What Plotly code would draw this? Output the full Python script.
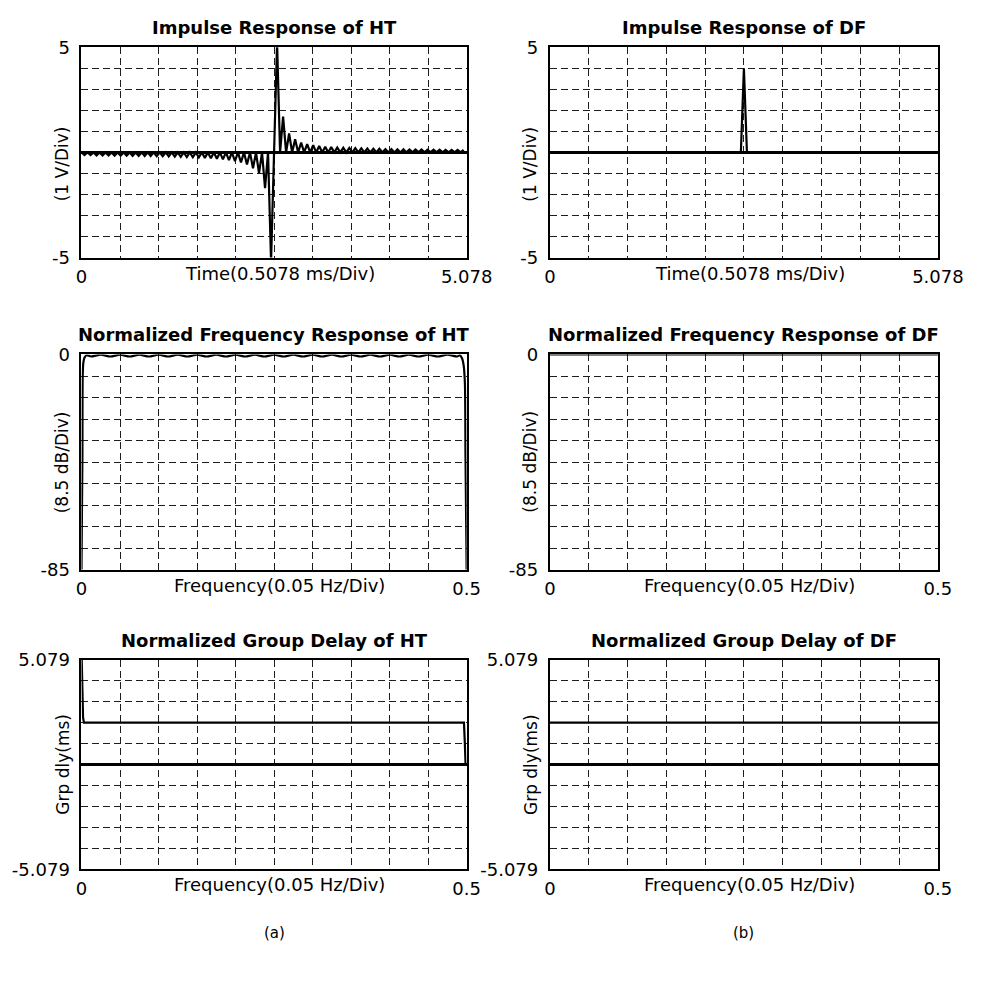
import numpy as np
import plotly.graph_objects as go

# ------------------------------------------------------------------ data
TIME_SPAN_MS = 5.078          # full time axis (10 divisions of 0.5078 ms)
N_SAMPLES = 128

# Impulse response of the Hilbert transformer (V), one value per sample
ht_impulse_v = [
    0, -0.13, 0, -0.13, 0, -0.14, 0, -0.14, 0, -0.14, 0, -0.15, 0, -0.15, 0, -0.15,
    0, -0.16, 0, -0.16, 0, -0.17, 0, -0.17, 0, -0.18, 0, -0.18, 0, -0.19, 0, -0.20,
    0, -0.21, 0, -0.22, 0, -0.23, 0, -0.24, 0, -0.26, 0, -0.28, 0, -0.30, 0, -0.33,
    0, -0.37, 0, -0.42, 0, -0.48, 0, -0.58, 0, -0.75, 0, -1.00, 0, -1.70, 0, -5.20,
    0, 5.20, 0, 1.70, 0, 0.90, 0, 0.62, 0, 0.47, 0, 0.39, 0, 0.34, 0, 0.30,
    0, 0.27, 0, 0.25, 0, 0.23, 0, 0.22, 0, 0.21, 0, 0.20, 0, 0.19, 0, 0.18,
    0, 0.17, 0, 0.17, 0, 0.16, 0, 0.16, 0, 0.15, 0, 0.15, 0, 0.14, 0, 0.14,
    0, 0.14, 0, 0.13, 0, 0.13, 0, 0.13, 0, 0.12, 0, 0.12, 0, 0.12, 0, 0.12,
]
# Impulse response of the delay filter (V): a single pulse
df_impulse_v = [0.0] * 64 + [4.0] + [0.0] * 63

# Normalized frequency response (dB)
ht_mag_freq = [0.0, 0.0012, 0.0016, 0.0025, 0.004, 0.0065,
               0.0125, 0.025, 0.0375, 0.05, 0.0625, 0.075, 0.0875, 0.1, 0.1125, 0.125,
               0.1375, 0.15, 0.1625, 0.175, 0.1875, 0.2, 0.2125, 0.225, 0.2375, 0.25,
               0.2625, 0.275, 0.2875, 0.3, 0.3125, 0.325, 0.3375, 0.35, 0.3625, 0.375,
               0.3875, 0.4, 0.4125, 0.425, 0.4375, 0.45, 0.4625, 0.475, 0.4875,
               0.491, 0.494, 0.4962, 0.4978, 0.4985, 0.5]
ht_mag_db = [-85.0, -40.0, -8.0, -3.0, -1.2, -0.3,
             -0.8, -0.1, -0.8, -0.1, -0.8, -0.1, -0.8, -0.1, -0.8, -0.1,
             -0.8, -0.1, -0.8, -0.1, -0.8, -0.1, -0.8, -0.1, -0.8, -0.1,
             -0.8, -0.1, -0.8, -0.1, -0.8, -0.1, -0.8, -0.1, -0.8, -0.1,
             -0.8, -0.1, -0.8, -0.1, -0.8, -0.1, -0.8, -0.1, -0.8,
             -0.3, -1.5, -4.5, -12.0, -40.0, -85.0]
df_mag_freq = [0.0, 0.5]
df_mag_db = [0.0, 0.0]

# Normalized group delay (ms)
ht_gd_freq = [0.0, 0.0006, 0.0012, 0.002, 0.0032, 0.4965, 0.4976, 0.4986, 0.5]
ht_gd_ms = [5.6, 4.9, 3.3, 2.3, 2.03, 2.03, 1.1, 0.0, 0.0]
df_gd_freq = [0.0, 0.5]
df_gd_ms = [2.03, 2.03]

panel_titles = ["Impulse Response of HT", "Impulse Response of DF",
                "Normalized Frequency Response of HT", "Normalized Frequency Response of DF",
                "Normalized Group Delay of HT", "Normalized Group Delay of DF"]
x_titles = ["Time(0.5078 ms/Div)", "Time(0.5078 ms/Div)",
            "Frequency(0.05 Hz/Div)", "Frequency(0.05 Hz/Div)",
            "Frequency(0.05 Hz/Div)", "Frequency(0.05 Hz/Div)"]
y_titles = ["(1 V/Div)", "(1 V/Div)", "(8.5 dB/Div)", "(8.5 dB/Div)",
            "Grp dly(ms)", "Grp dly(ms)"]
time_tick_text = ["0", "5.078"]
freq_tick_text = ["0", "0.5"]
volt_tick_text = ["-5", "5"]
db_tick_text = ["-85", "0"]
gd_tick_text = ["-5.079", "5.079"]
captions = ["(a)", "(b)"]

time_range = [0.0, TIME_SPAN_MS]
freq_range = [0.0, 0.5]
volt_range = [-5.0, 5.0]
db_range = [-85.0, 0.0]
gd_range = [-5.079, 5.079]

# ------------------------------------------------------------------ layout helpers
W, H = 992, 981
FONT = "DejaVu Sans"


def fx(px):
    return px / W


def fy(py):
    return 1 - py / H


cols = [(78, 476), (562, 963)]
rows = [(37, 252), (351, 571), (663, 877)]

t_axis = list(np.arange(N_SAMPLES) * TIME_SPAN_MS / N_SAMPLES)
series = [
    (t_axis, ht_impulse_v, time_range, time_tick_text, volt_range, volt_tick_text, True, "linear"),
    (t_axis, df_impulse_v, time_range, time_tick_text, volt_range, volt_tick_text, True, "linear"),
    (ht_mag_freq, ht_mag_db, freq_range, freq_tick_text, db_range, db_tick_text, False, "spline"),
    (df_mag_freq, df_mag_db, freq_range, freq_tick_text, db_range, db_tick_text, False, "linear"),
    (ht_gd_freq, ht_gd_ms, freq_range, freq_tick_text, gd_range, gd_tick_text, True, "linear"),
    (df_gd_freq, df_gd_ms, freq_range, freq_tick_text, gd_range, gd_tick_text, True, "linear"),
]

fig = go.Figure()
annotations = []
grid_common = dict(showgrid=True, gridcolor="#1e1e1e", gridwidth=1, griddash="7px,4px",
                   showline=True, mirror=True, linecolor="black", linewidth=2,
                   ticks="", tickfont=dict(family=FONT, size=18, color="black"))

for i, (xs, ys, xr, xt, yr, yt, zl, shape) in enumerate(series):
    r, c = divmod(i, 2)
    (x0, x1), (y0, y1) = cols[c], rows[r]
    sfx = "" if i == 0 else str(i + 1)
    fig.add_trace(go.Scatter(
        x=xs, y=ys, mode="lines", xaxis="x" + sfx, yaxis="y" + sfx,
        line=dict(color="black", width=2.2, shape=shape, smoothing=0.7),
        showlegend=False, hoverinfo="skip"))
    xtv = list(np.linspace(xr[0], xr[1], 11))
    ytv = list(np.linspace(yr[0], yr[1], 11))
    fig.layout["xaxis" + sfx] = dict(
        domain=[fx(x0), fx(x1)], anchor="y" + sfx, range=xr,
        tickmode="array", tickvals=xtv,
        ticktext=[xt[0]] + [""] * 9 + [xt[1]], zeroline=False,
        ticklabelstandoff=2, **grid_common)
    fig.layout["yaxis" + sfx] = dict(
        domain=[fy(y1), fy(y0)], anchor="x" + sfx, range=yr,
        tickmode="array", tickvals=ytv,
        ticktext=[yt[0]] + [""] * 9 + [yt[1]],
        zeroline=zl, zerolinecolor="black", zerolinewidth=2.5,
        ticklabelstandoff=6, **grid_common)

    cx = (x0 + x1) / 2
    # panel title
    annotations.append(dict(text="<b>" + panel_titles[i] + "</b>", x=fx(cx), y=fy(y0 - 20),
                            xref="paper", yref="paper", showarrow=False,
                            font=dict(family=FONT, size=18, color="black"),
                            xanchor="center", yanchor="middle"))
    # x-axis title on the tick-label row
    annotations.append(dict(text=x_titles[i], x=fx(cx + 6), y=fy(y1 + 16),
                            xref="paper", yref="paper", showarrow=False,
                            font=dict(family=FONT, size=18, color="black"),
                            xanchor="center", yanchor="middle"))
    # y-axis title between the two tick labels
    ymid = (y0 + y1) / 2 + (12 if r == 0 else 0)
    annotations.append(dict(text=y_titles[i], x=fx(x0 - 20), y=fy(ymid),
                            xref="paper", yref="paper", showarrow=False, textangle=-90,
                            font=dict(family=FONT, size=17, color="black"),
                            xanchor="center", yanchor="middle"))

for c, cap in enumerate(captions):
    x0, x1 = cols[c]
    annotations.append(dict(text=cap, x=fx((x0 + x1) / 2), y=fy(942),
                            xref="paper", yref="paper", showarrow=False,
                            font=dict(family=FONT, size=15, color="black"),
                            xanchor="center", yanchor="middle"))

fig.update_layout(
    width=W, height=H, margin=dict(l=0, r=0, t=0, b=0),
    paper_bgcolor="white", plot_bgcolor="white",
    annotations=annotations, showlegend=False,
    font=dict(family=FONT, color="black"),
)

fig.write_html("out.html", config={"displayModeBar": False},
               post_script="document.body.style.margin='0';document.body.style.overflow='hidden';")
